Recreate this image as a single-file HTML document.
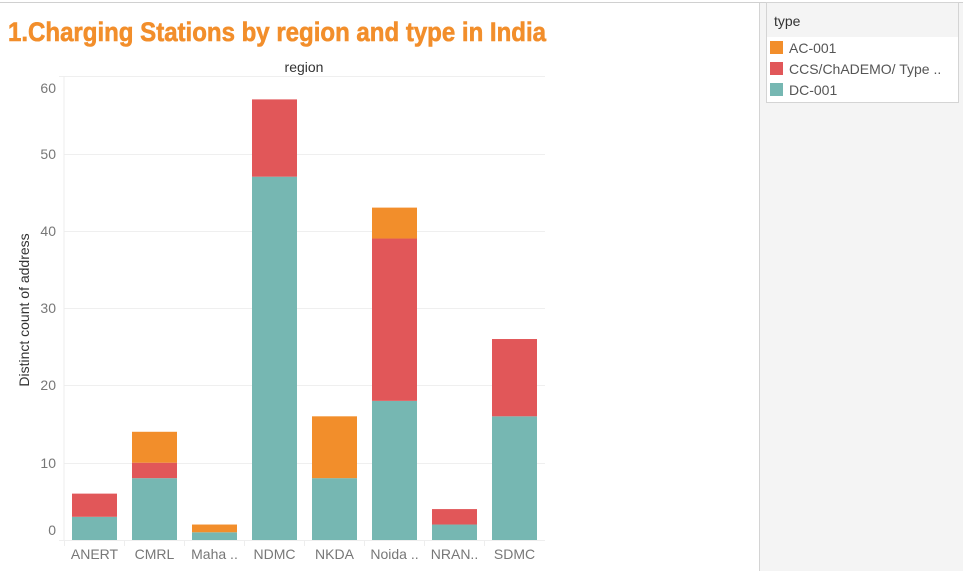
<!DOCTYPE html>
<html><head><meta charset="utf-8"><style>
body{margin:0;width:963px;height:571px;overflow:hidden;background:#fff;font-family:"Liberation Sans",sans-serif}
</style></head><body>
<svg id="chart" width="963" height="571" xmlns="http://www.w3.org/2000/svg" font-family="Liberation Sans, sans-serif">
<rect x="0" y="0" width="963" height="571" fill="#fff"/>
<rect x="759" y="2" width="204" height="569" fill="#f4f4f4"/>
<line x1="759.5" y1="2" x2="759.5" y2="571" stroke="#d4d4d4"/>
<line x1="0" y1="2.5" x2="963" y2="2.5" stroke="#d0d0d0"/>
<text x="8" y="41" font-size="27" font-weight="bold" fill="#f28e2b" stroke="#f28e2b" stroke-width="0.6" textLength="538" lengthAdjust="spacingAndGlyphs">1.Charging Stations by region and type in India</text>
<text x="304" y="72" font-size="14" fill="#333" text-anchor="middle">region</text>
<text transform="translate(29,310) rotate(-90)" font-size="14" fill="#333" text-anchor="middle">Distinct count of address</text>
<g>
<rect x="766.5" y="2.5" width="192" height="100" fill="#fff" stroke="#d4d4d4"/>
<rect x="767" y="3" width="191" height="34" fill="#f4f4f4"/>
<text x="774" y="26" font-size="14" fill="#333">type</text>
<rect x="770" y="41" width="13" height="13" fill="#f28e2b"/>
<text x="789" y="53" font-size="14" fill="#555">AC-001</text>
<rect x="770" y="62" width="13" height="13" fill="#e15759"/>
<text x="789" y="74" font-size="14" fill="#555">CCS/ChADEMO/ Type ..</text>
<rect x="770" y="83" width="13" height="13" fill="#76b7b2"/>
<text x="789" y="95" font-size="14" fill="#555">DC-001</text>
</g>
<g id="plot"></g>
</svg>
<script>
const categories=["ANERT","CMRL","Maha ..","NDMC","NKDA","Noida ..","NRAN..","SDMC"];
const dcValues=[3,8,1,47,8,18,2,16];
const ccsValues=[3,2,0,10,0,21,2,10];
const acValues=[0,4,1,0,8,4,0,0];
const yTicks=[0,10,20,30,40,50,60];
const NS="http://www.w3.org/2000/svg";
const g=document.getElementById('plot');
const x0=64,x1=545,y0=540,pxPerUnit=7.73,slot=60;
function yScale(v){return y0-v*pxPerUnit;}
function xScale(i){return x0+i*slot;}
function mk(tag,attrs){const e=document.createElementNS(NS,tag);for(const k in attrs)e.setAttribute(k,attrs[k]);g.appendChild(e);return e;}
yTicks.forEach(t=>{
  const y=Math.round(yScale(t));
  if(t>0){const l=mk('line',{x1:t===60?x0-5:x0,y1:y+0.5,x2:x1,y2:y+0.5,stroke:'#efefef'});
  
  }
  let ly=Math.min(Math.max(y,88),530);
  const tx=mk('text',{x:56,y:ly+5,'font-size':14,fill:'#777','text-anchor':'end'});
  tx.textContent=t;
  
  
});
mk('line',{x1:x0,y1:76,x2:x0,y2:540,stroke:'#eee'});
mk('line',{x1:x0-5,y1:540.5,x2:x1,y2:540.5,stroke:'#eee'});
const series=[[dcValues,'#76b7b2','dc'],[ccsValues,'#e15759','ccs'],[acValues,'#f28e2b','ac']];
categories.forEach((c,i)=>{
  let base=0;
  series.forEach(([vals,col,nm])=>{
    const v=vals[i];
    if(v>0){
      const r=mk('rect',{x:xScale(i)+8,y:yScale(base+v),width:45,height:v*pxPerUnit,fill:col});
      
      
    }
    base+=v;
  });
  mk('line',{x1:xScale(i)+0.5,y1:540,x2:xScale(i)+0.5,y2:546,stroke:'#eee'});
  const lb=mk('text',{x:xScale(i)+30.5,y:559,'font-size':14,fill:'#777','text-anchor':'middle'});
  lb.textContent=c;
  
  
});
</script>
</body></html>
